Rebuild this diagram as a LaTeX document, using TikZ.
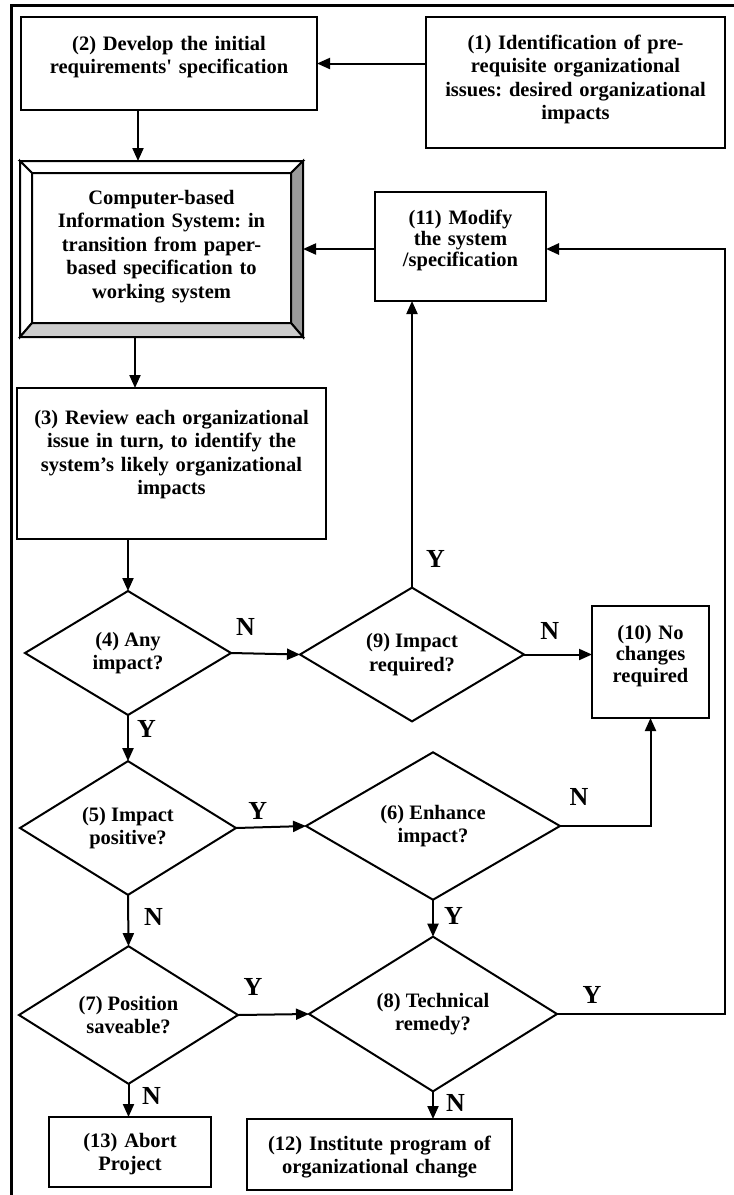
\documentclass[tikz,border=0pt]{standalone}
\usepackage{fontspec}
\setmainfont{Liberation Serif}
\usepackage{tikz}
\usetikzlibrary{arrows.meta,positioning,shapes.geometric,calc}
\frenchspacing
\definecolor{ink}{HTML}{000000}
\definecolor{bevdark}{HTML}{9A9A9A}
\definecolor{bevlight}{HTML}{CCCCCC}
\tikzset{
  >={Triangle[length=13pt,width=11pt]},
  txt/.style={font=\fontsize{20.5}{23.5}\selectfont\bfseries},
  flow/.style={->,line width=2pt,draw=ink},
  box/.style={txt,draw=ink,line width=2pt,fill=white,align=center,
    inner xsep=2pt,inner ysep=0pt,outer sep=0pt},
  dia/.style={txt,diamond,draw=ink,line width=2pt,align=center,inner sep=0pt,outer sep=0pt},
  bevel/.style={line width=2pt,draw=ink,line join=miter},
  yn/.style={font=\fontsize{26}{28}\selectfont\bfseries,inner sep=0pt}
}

\begin{document}
\begin{tikzpicture}[x=1pt,y=-1pt]
  \useasboundingbox (0,0) rectangle (734,1195);
  \draw[line width=3.5pt] (11.5,1200) -- (11.5,5.5) -- (740,5.5);

  \node[box,text width=295pt,text height=32pt,text depth=99pt] (ident) at (575.5,82.5)
    {(1) Identification of pre-\\requisite organizational\\issues: desired organizational\\impacts};
  \node[box,text width=292pt,text height=33pt,text depth=60pt] (dev) at (169,63.5)
    {(2) Develop the initial\hspace*{30pt}\\requirements\textquotesingle{} specification};
  \node[box,text width=279pt,text height=43pt,text depth=133pt] (cbis) at (161.5,249)
    {Computer-based\\Information System: in\\transition from paper-\\based specification to\\working system};
  \filldraw[bevel,fill=white] (cbis.north west) -- (cbis.north east) -- ($(cbis.north east)+(-12,12)$) -- ($(cbis.north west)+(12,12)$) -- cycle;
  \filldraw[bevel,fill=white] (cbis.north west) -- (cbis.south west) -- ($(cbis.south west)+(12,-14)$) -- ($(cbis.north west)+(12,12)$) -- cycle;
  \filldraw[bevel,fill=bevdark] (cbis.north east) -- (cbis.south east) -- ($(cbis.south east)+(-12,-14)$) -- ($(cbis.north east)+(-12,12)$) -- cycle;
  \filldraw[bevel,fill=bevlight] (cbis.south west) -- (cbis.south east) -- ($(cbis.south east)+(-12,-14)$) -- ($(cbis.south west)+(12,-14)$) -- cycle;
  \node[box,font=\fontsize{20.5}{21}\selectfont\bfseries,text width=167pt,text height=32pt,text depth=77pt] (modify) at (460.5,246.5)
    {(11) Modify\\the system\\/specification};
  \node[box,text width=305pt,text height=36pt,text depth=115pt] (review) at (171.5,463.5)
    {(3) Review each organizational\\issue in turn, to identify the\\system’s likely organizational\\impacts};

  \node[dia,minimum width=206pt,minimum height=124pt] (any) at (128,653) {(4) Any\\impact?};
  \node[dia,minimum width=224pt,minimum height=117pt] (needed) at (412,654.5) {(9) Impact\\required?};
  \node[box,font=\fontsize{20.5}{21.5}\selectfont\bfseries,text width=113pt,text height=33pt,text depth=79pt] (nochange) at (650.5,662)
    {(10) No\\changes\\required};
  \node[dia,minimum width=216pt,minimum height=105pt] (positive) at (128,828) {(5) Impact\\positive?};
  \node[dia,minimum width=254pt,minimum height=108pt] (enhance) at (433,826) {(6) Enhance\\impact?};
  \node[dia,minimum width=219pt,minimum height=113pt] (saveable) at (128.5,1015) {(7) Position\\saveable?};
  \node[dia,minimum width=248pt,minimum height=118pt] (remedy) at (433,1014) {(8) Technical\\remedy?};
  \node[box,text width=158pt,text height=30pt,text depth=40pt] (abort) at (130,1152) {(13) Abort\\Project};
  \node[box,text width=261pt,text height=31pt,text depth=40pt] (institute) at (379.5,1154.5)
    {(12) Institute program of\\organizational change};

  \draw[flow] (dev.east -| ident.west) -- (dev.east);
  \draw[flow] ([xshift=-31pt]dev.south) -- ([xshift=-31pt]dev.south |- cbis.north);
  \draw[flow] ([xshift=-26.5pt]cbis.south) -- ([xshift=-26.5pt]cbis.south |- review.north);
  \draw[flow] (modify.west |- cbis.east) -- (cbis.east);
  \draw[flow] (any.north |- review.south) -- (any.north);
  \draw[flow] (any.east) -- node[yn,above=17pt,pos=.21] (n1) {N} (needed.west);
  \draw[flow] (needed.north) -- node[yn,right=13pt,pos=.1] (y1) {Y} (needed.north |- modify.south);
  \draw[flow] (needed.east) -- node[yn,above=14pt,pos=.38] (n2) {N} (needed.east -| nochange.west);
  \draw[flow] (any.south) -- node[yn,right=8pt,pos=.3] (y2) {Y} (positive.north);
  \draw[flow] (positive.east) -- node[yn,above=7pt,pos=.31] (y3) {Y} (enhance.west);
  \draw[flow] (enhance.east) -| node[yn,above=20pt,pos=.105] (n3) {N} (nochange.south);
  \draw[flow] (positive.south) -- node[yn,right=15pt,pos=.44] (n4) {N} (saveable.north);
  \draw[flow] (enhance.south) -- node[yn,right=10pt,pos=.44] (y4) {Y} (remedy.north);
  \draw[flow] (saveable.east) -- node[yn,above=18pt,pos=.21] (y5) {Y} (remedy.west);
  \coordinate (loop) at (725,249);
  \draw[flow,line width=2.6pt] (remedy.east) -| node[yn,above=9pt,pos=.104] (y6) {Y} (loop) -- (loop -| modify.east);
  \draw[flow] (saveable.south) -- node[yn,right=12.5pt,pos=.36] (n5) {N} (saveable.south |- abort.north);
  \draw[flow] (remedy.south) -- node[yn,right=12pt,pos=.41] (n6) {N} (remedy.south |- institute.north);
\end{tikzpicture}
\end{document}
